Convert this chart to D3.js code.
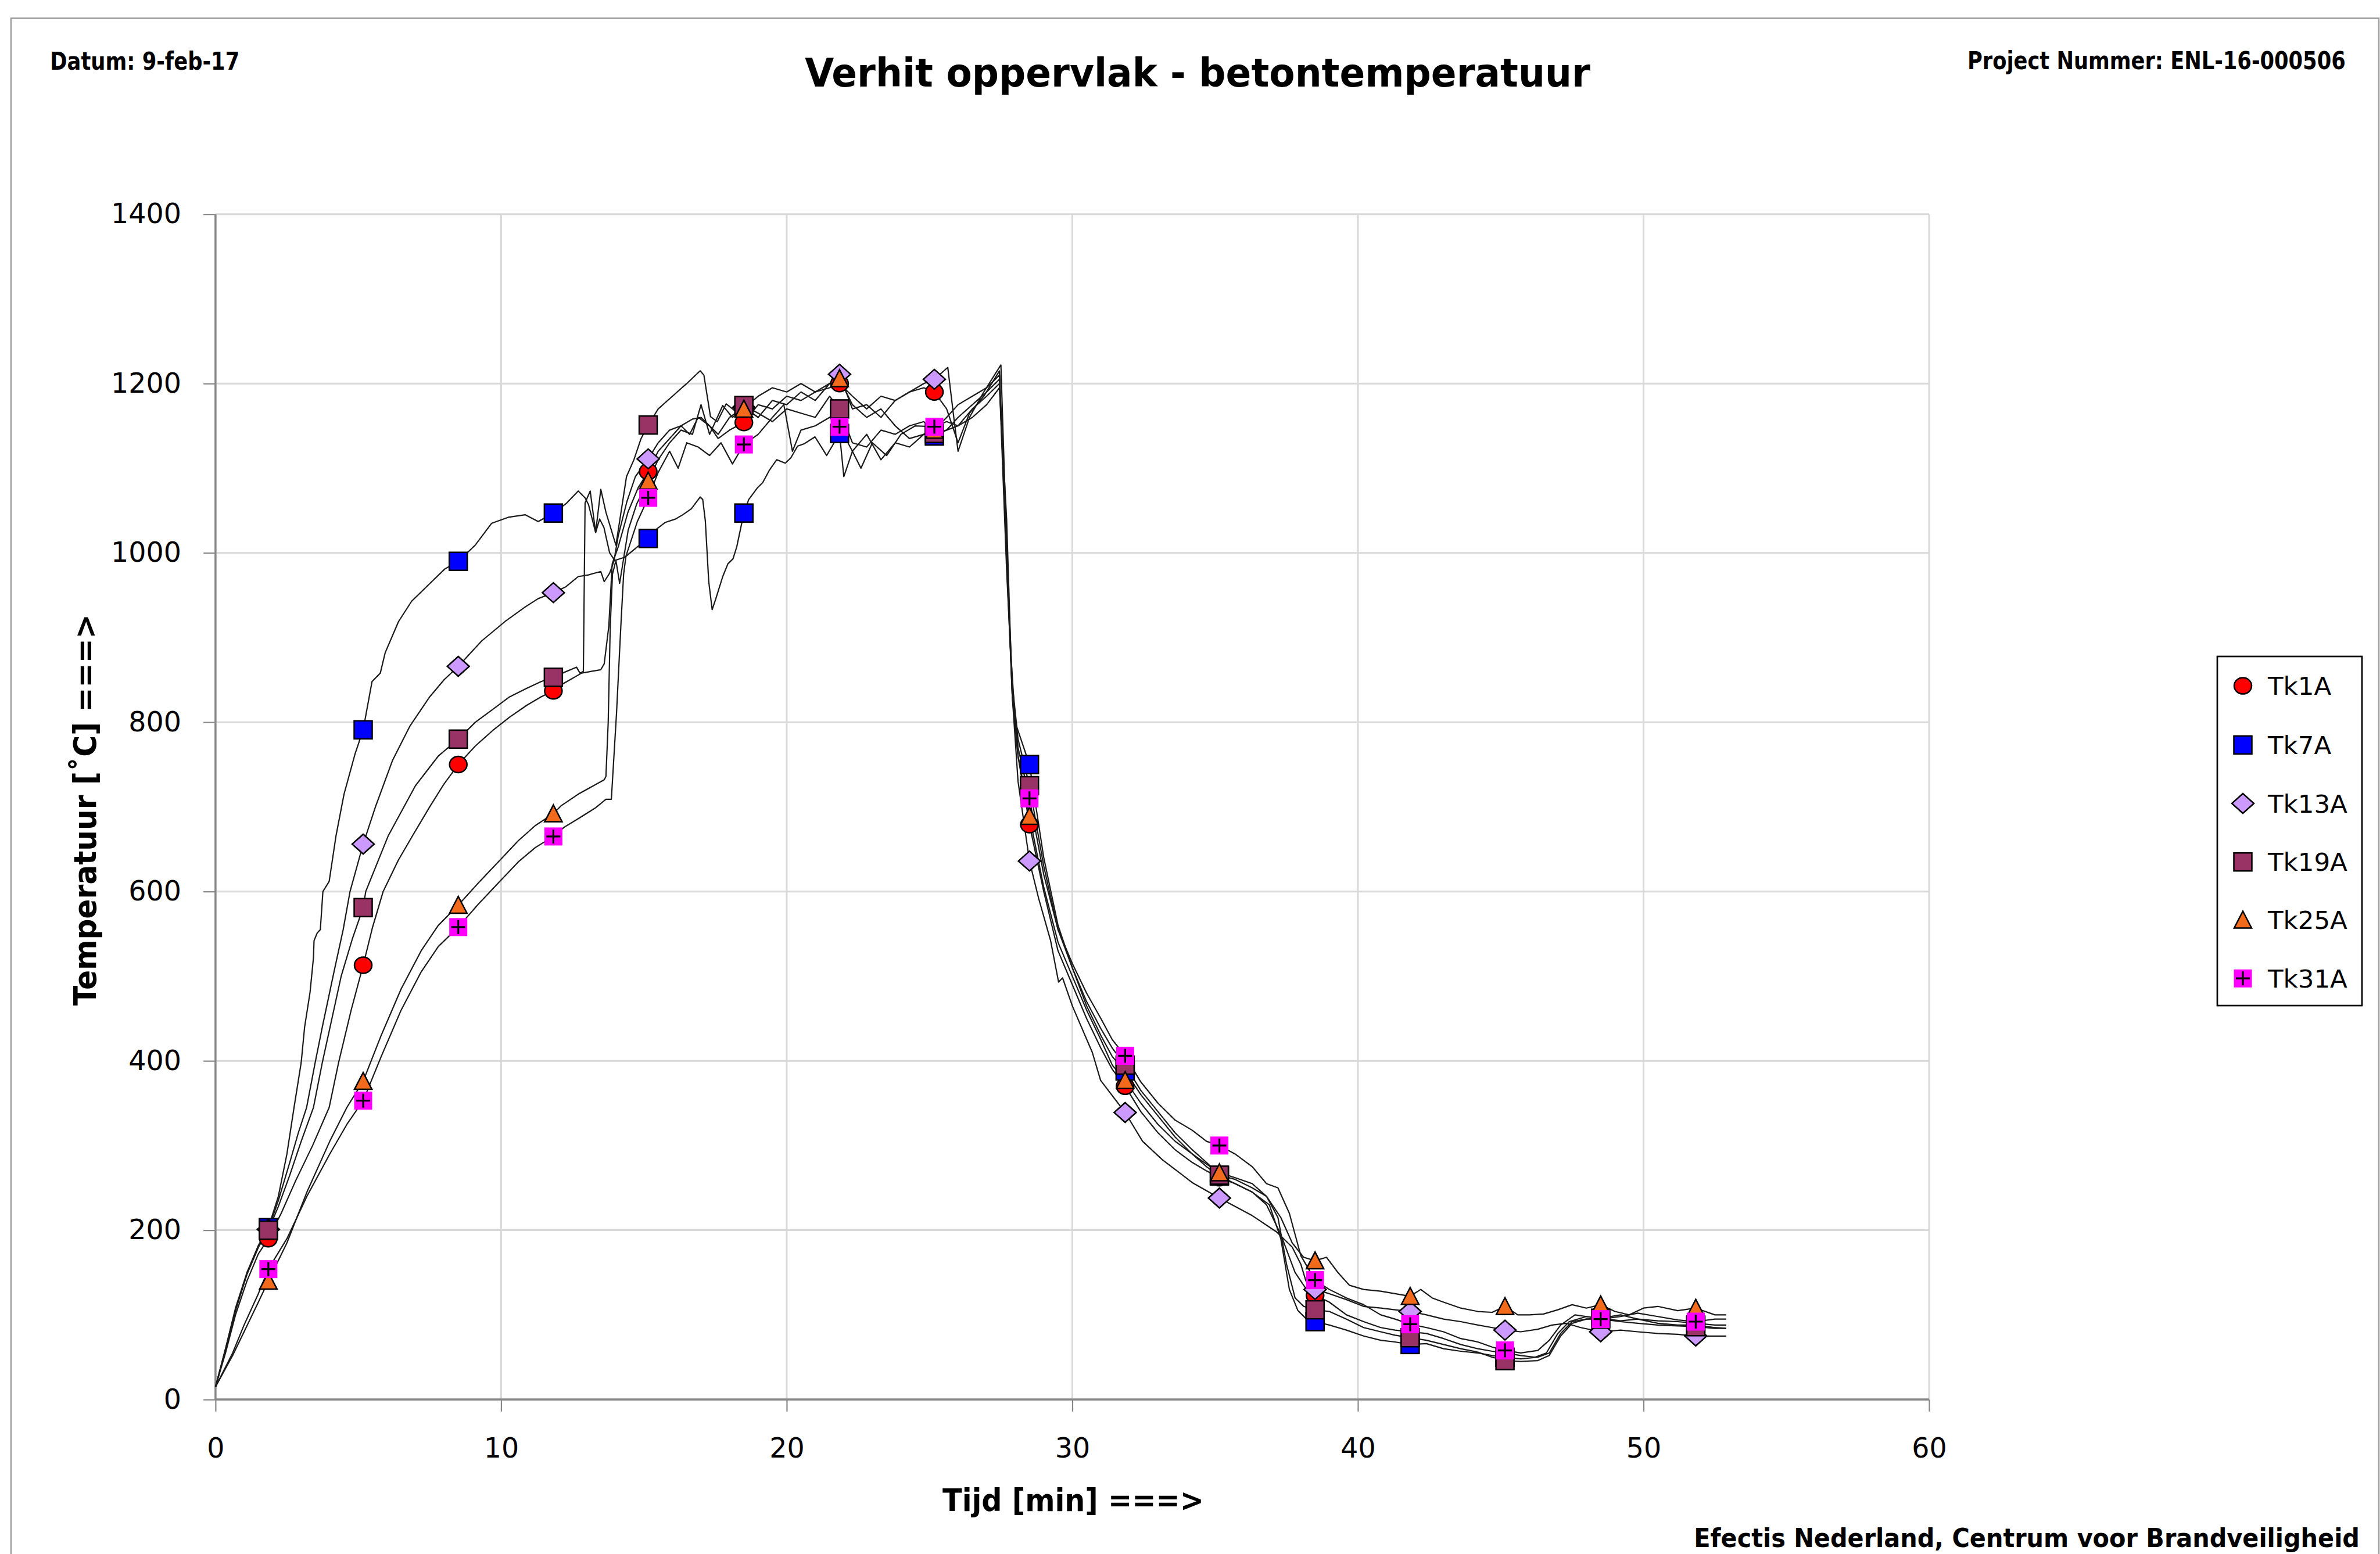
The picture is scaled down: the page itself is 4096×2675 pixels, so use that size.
<!DOCTYPE html>
<html><head><meta charset="utf-8">
<script src="https://cdn.jsdelivr.net/npm/d3@7"></script>
<style>html,body{margin:0;padding:0;background:#fff;}svg{display:block;}</style>
</head><body>
<script>
// ---------- DATA ----------
const seriesNames = ["Tk1A","Tk7A","Tk13A","Tk19A","Tk25A","Tk31A"];
const xTicks = [0,10,20,30,40,50,60];
const yTicks = [0,200,400,600,800,1000,1200,1400];
const markerTimes = [1.85,5.17,8.5,11.83,15.15,18.5,21.85,25.17,28.5,31.85,35.15,38.5,41.83,45.15,48.5,51.83];

const tk1aMarks  = [190,513,750,837,1096,1154,1200,1190,679,370,262,123,80,55,96,90];
const tk7aMarks  = [203,791,990,1047,1017,1047,1141,1138,750,388,264,92,65,50,96,88];
const tk13aMarks = [201,656,866,953,1111,1172,1211,1205,636,339,238,130,104,82,80,75];
const tk19aMarks = [200,581,780,853,1151,1174,1170,1141,725,395,265,106,73,46,95,86];
const tk25aMarks = [140,376,584,692,1085,1170,1206,1145,689,377,268,164,122,110,112,108];
const tk31aMarks = [154,353,558,665,1065,1128,1149,1149,710,406,300,141,89,58,95,92];

const tk1aLine = [[0,15],[0.35,55],[0.7,100],[1.1,140],[1.5,172],[1.85,190],[2.3,220],[2.8,258],[3.4,300],[3.98,345],[4.31,398],[4.75,460],[5.17,513],[5.5,558],[5.87,600],[6.4,637],[6.9,666],[7.5,700],[8.0,727],[8.5,750],[9.1,772],[9.7,790],[10.3,806],[10.9,820],[11.4,830],[11.83,837],[12.15,845],[12.82,858],[13.49,862],[13.61,869],[13.77,913],[13.89,987],[14.1,1007],[14.44,1048],[14.8,1077],[15.15,1096],[15.5,1120],[15.9,1135],[16.3,1150],[16.6,1140],[16.9,1160],[17.3,1150],[17.6,1135],[18.0,1145],[18.5,1154],[19.0,1175],[19.5,1170],[20.0,1185],[20.5,1180],[21.0,1190],[21.5,1195],[21.85,1200],[22.3,1185],[22.8,1170],[23.3,1185],[23.8,1180],[24.3,1190],[24.8,1195],[25.17,1190],[25.6,1170],[26.0,1130],[26.4,1165],[26.9,1185],[27.45,1215],[27.7,1000],[27.9,830],[28.1,760],[28.5,679],[29.0,600],[29.5,530],[30.0,490],[30.5,450],[31.0,415],[31.4,390],[31.85,370],[32.4,340],[33.0,315],[33.6,295],[34.2,280],[34.7,270],[35.15,262],[35.7,255],[36.3,245],[36.8,230],[37.3,195],[37.8,150],[38.2,130],[38.5,123],[39.0,115],[39.6,100],[40.2,92],[40.8,85],[41.3,82],[41.83,80],[42.4,78],[43.0,72],[43.6,65],[44.2,60],[44.7,57],[45.15,55],[45.7,52],[46.2,50],[46.6,55],[47.0,78],[47.4,92],[48.0,98],[48.5,96],[49.2,100],[49.8,95],[50.5,93],[51.2,92],[51.83,90],[52.5,88],[52.9,88]];

const tk7aLine = [[0,15],[0.35,60],[0.7,108],[1.1,150],[1.5,182],[1.85,203],[2.2,240],[2.5,290],[2.75,345],[3.0,398],[3.12,440],[3.31,481],[3.43,522],[3.45,542],[3.56,551],[3.67,555],[3.76,600],[3.98,612],[4.22,666],[4.5,715],[4.89,763],[5.17,791],[5.48,848],[5.77,858],[5.94,882],[6.41,919],[6.87,943],[7.45,962],[8.03,981],[8.5,990],[9.09,1009],[9.67,1035],[10.25,1042],[10.84,1045],[11.3,1037],[11.83,1047],[12.27,1058],[12.7,1073],[12.94,1065],[13.06,1057],[13.31,1024],[13.45,1040],[13.6,1030],[13.8,1000],[13.98,991],[14.34,995],[14.77,1007],[15.15,1017],[15.44,1028],[15.75,1036],[16.11,1040],[16.36,1045],[16.66,1052],[16.97,1066],[17.06,1063],[17.15,1038],[17.27,966],[17.39,933],[17.51,945],[17.76,972],[17.94,987],[18.12,993],[18.25,1007],[18.5,1047],[18.67,1063],[18.98,1077],[19.16,1083],[19.4,1098],[19.65,1110],[19.95,1106],[20.14,1112],[20.38,1126],[20.62,1129],[20.99,1137],[21.4,1115],[21.85,1141],[22.0,1090],[22.3,1120],[22.8,1140],[23.3,1110],[23.8,1130],[24.3,1125],[24.8,1140],[25.17,1138],[25.6,1145],[26.0,1150],[26.5,1160],[27.0,1175],[27.45,1195],[27.7,1040],[27.85,880],[28.0,800],[28.5,750],[29.0,640],[29.5,560],[30.0,510],[30.5,465],[31.0,430],[31.4,405],[31.85,388],[32.4,360],[33.0,335],[33.6,310],[34.2,290],[34.7,275],[35.15,264],[35.7,255],[36.3,245],[36.9,230],[37.3,190],[37.6,130],[37.9,105],[38.2,95],[38.5,92],[39.0,88],[39.6,82],[40.2,75],[40.8,70],[41.3,68],[41.83,65],[42.4,66],[43.0,60],[43.6,57],[44.2,55],[44.7,52],[45.15,50],[45.7,48],[46.3,50],[46.7,55],[47.1,78],[47.5,92],[48.0,95],[48.5,96],[49.2,93],[49.8,95],[50.5,90],[51.2,88],[51.83,88],[52.5,85],[52.9,84]];

const tk13aLine = [[0,15],[0.35,58],[0.7,105],[1.1,148],[1.5,180],[1.85,201],[2.2,235],[2.6,280],[2.9,315],[3.19,345],[3.49,398],[3.74,440],[4.16,507],[4.47,555],[4.71,600],[5.17,656],[5.6,700],[6.2,755],[6.8,795],[7.5,830],[8.0,850],[8.5,866],[9.32,896],[10.14,919],[10.84,936],[11.3,946],[11.83,953],[12.27,960],[12.7,972],[13.06,974],[13.49,978],[13.61,966],[13.8,976],[13.95,990],[14.1,1020],[14.4,1060],[14.7,1090],[15.15,1111],[15.5,1130],[15.9,1145],[16.3,1150],[16.7,1158],[17.0,1160],[17.3,1150],[17.6,1140],[18.0,1160],[18.5,1172],[19.0,1160],[19.5,1180],[20.0,1175],[20.5,1190],[21.0,1180],[21.5,1200],[21.85,1211],[22.3,1170],[22.8,1175],[23.3,1160],[23.8,1180],[24.3,1190],[24.8,1200],[25.17,1205],[25.64,1219],[25.85,1160],[26.0,1120],[26.4,1160],[26.9,1190],[27.5,1222],[27.7,1010],[27.9,830],[28.1,730],[28.5,636],[28.82,592],[29.24,542],[29.52,493],[29.66,498],[30.0,465],[30.7,410],[30.99,377],[31.85,339],[32.46,305],[33.16,283],[34.21,256],[35.15,238],[36.31,217],[37.15,198],[37.7,180],[38.0,160],[38.18,140],[38.5,130],[39.0,125],[39.6,118],[40.2,110],[40.8,108],[41.3,106],[41.83,104],[42.4,100],[43.0,95],[43.6,92],[44.2,88],[44.7,85],[45.15,82],[45.7,80],[46.3,83],[46.8,88],[47.3,90],[47.8,85],[48.5,80],[49.2,82],[49.8,80],[50.5,78],[51.2,77],[51.83,75],[52.5,75],[52.9,75]];

const tk19aLine = [[0,15],[0.35,60],[0.7,106],[1.1,148],[1.5,180],[1.85,200],[2.2,228],[2.6,265],[3.0,305],[3.43,345],[3.74,398],[4.4,500],[4.8,545],[5.17,581],[5.26,600],[6.05,666],[7.0,725],[7.8,760],[8.5,780],[9.1,800],[9.7,815],[10.3,830],[10.9,840],[11.4,848],[11.83,853],[12.15,858],[12.64,865],[12.76,858],[12.88,860],[12.94,1059],[13.12,1073],[13.31,1024],[13.49,1075],[13.67,1048],[13.85,1028],[14.02,1009],[14.39,1090],[14.65,1110],[14.9,1135],[15.15,1151],[15.5,1170],[16.0,1185],[16.5,1200],[16.97,1215],[17.1,1210],[17.33,1161],[17.57,1155],[17.88,1176],[18.18,1168],[18.5,1174],[19.0,1165],[19.5,1155],[20.0,1170],[20.5,1165],[21.0,1160],[21.5,1185],[21.85,1170],[22.3,1130],[22.8,1125],[23.3,1145],[23.8,1140],[24.3,1150],[24.8,1155],[25.17,1141],[25.6,1145],[26.0,1160],[26.5,1175],[27.0,1190],[27.45,1205],[27.7,1000],[27.9,845],[28.1,780],[28.5,725],[29.0,630],[29.5,555],[30.0,510],[30.5,470],[31.0,438],[31.4,415],[31.85,395],[32.4,365],[33.0,340],[33.6,315],[34.2,295],[34.7,280],[35.15,265],[35.7,260],[36.3,250],[36.8,240],[37.2,215],[37.5,160],[37.8,120],[38.1,110],[38.5,106],[39.0,104],[39.6,95],[40.2,85],[40.8,80],[41.3,76],[41.83,73],[42.4,70],[43.0,65],[43.6,60],[44.2,56],[44.7,50],[45.15,46],[45.7,45],[46.3,46],[46.7,52],[47.1,75],[47.5,90],[48.0,95],[48.5,95],[49.2,92],[49.8,90],[50.5,88],[51.2,87],[51.83,86],[52.5,84],[52.9,84]];

const tk25aLine = [[0,15],[0.6,52],[1.0,80],[1.5,115],[1.85,140],[2.5,185],[3.2,245],[4.0,305],[4.6,345],[5.17,376],[5.8,430],[6.5,485],[7.2,530],[7.8,560],[8.5,584],[9.2,610],[9.9,635],[10.6,660],[11.2,678],[11.83,692],[12.09,701],[12.7,715],[13.61,732],[13.67,736],[13.75,800],[13.82,912],[13.9,975],[14.02,991],[14.15,964],[14.45,1027],[14.75,1058],[15.15,1085],[15.5,1110],[15.9,1130],[16.3,1145],[16.7,1140],[17.0,1175],[17.3,1140],[17.76,1174],[18.1,1160],[18.5,1170],[19.0,1185],[19.5,1195],[20.0,1190],[20.5,1200],[21.0,1190],[21.5,1200],[21.85,1206],[22.3,1175],[22.8,1160],[23.3,1170],[23.8,1150],[24.3,1135],[24.8,1140],[25.17,1145],[25.6,1160],[26.0,1175],[26.5,1185],[27.0,1195],[27.45,1210],[27.7,990],[27.9,830],[28.1,760],[28.5,689],[29.0,605],[29.5,540],[30.0,500],[30.5,460],[31.0,425],[31.4,395],[31.85,377],[32.4,350],[33.0,325],[33.6,305],[34.2,290],[34.7,278],[35.15,268],[35.7,262],[36.3,255],[36.8,240],[37.3,215],[37.7,185],[38.1,168],[38.5,164],[38.9,168],[39.3,150],[39.7,135],[40.2,130],[40.8,128],[41.3,125],[41.83,122],[42.2,130],[42.6,120],[43.0,115],[43.6,108],[44.2,104],[44.7,103],[45.15,110],[45.6,100],[46.0,100],[46.5,101],[47.0,106],[47.5,112],[48.0,108],[48.5,112],[49.0,104],[49.5,100],[50.0,108],[50.5,110],[51.2,105],[51.83,108],[52.5,100],[52.9,100]];

const tk31aLine = [[0,15],[0.6,55],[1.0,88],[1.5,125],[1.85,154],[2.5,190],[3.2,240],[4.0,290],[4.6,325],[5.17,353],[5.8,405],[6.5,460],[7.2,505],[7.8,535],[8.5,558],[9.2,585],[9.9,610],[10.6,635],[11.2,652],[11.83,665],[12.21,676],[12.7,686],[13.31,699],[13.67,709],[13.86,709],[14.04,810],[14.19,912],[14.29,975],[14.37,996],[14.77,1037],[15.15,1065],[15.5,1095],[15.9,1120],[16.2,1100],[16.5,1130],[16.9,1125],[17.3,1115],[17.7,1130],[18.1,1105],[18.5,1128],[19.0,1140],[19.5,1160],[19.9,1175],[20.2,1120],[20.5,1145],[21.0,1150],[21.5,1160],[21.85,1149],[22.3,1120],[22.6,1100],[23.0,1130],[23.5,1115],[24.0,1140],[24.5,1150],[25.17,1149],[25.6,1155],[26.0,1150],[26.5,1170],[27.0,1185],[27.45,1200],[27.7,980],[27.9,840],[28.1,770],[28.5,710],[29.0,620],[29.5,555],[30.0,515],[30.5,480],[31.0,450],[31.4,425],[31.85,406],[32.4,375],[33.0,350],[33.6,330],[34.2,318],[34.7,305],[35.15,300],[35.7,290],[36.3,275],[36.8,255],[37.2,250],[37.6,220],[38.0,170],[38.5,141],[39.0,130],[39.6,120],[40.2,112],[40.8,100],[41.3,95],[41.83,89],[42.4,85],[43.0,80],[43.6,72],[44.2,68],[44.7,62],[45.15,58],[45.7,55],[46.3,58],[46.7,70],[47.1,88],[47.6,100],[48.0,98],[48.5,95],[49.2,98],[49.8,102],[50.5,98],[51.2,94],[51.83,92],[52.5,95],[52.9,95]];

const seriesLines = [tk1aLine, tk7aLine, tk13aLine, tk19aLine, tk25aLine, tk31aLine];
const seriesMarks = [tk1aMarks, tk7aMarks, tk13aMarks, tk19aMarks, tk25aMarks, tk31aMarks];
const seriesShapes = ["circle","square","diamond","square","triangle","plus"];
const seriesColors = ["#ff0000","#0000ff","#cc99ff","#993366","#f26b1d","#ff00ff"];

// ---------- LAYOUT ----------
const W = 4096, H = 2675;
const X0 = 370.9, X1 = 3320.0, Y0 = 2409.1, Y1 = 368.7;

const svg = d3.select("body").append("svg").attr("width", W).attr("height", H)
  .style("font-family", "'DejaVu Sans', Verdana, sans-serif");
svg.append("rect").attr("width", W).attr("height", H).attr("fill", "#fff");

// outer frame
svg.append("rect").attr("x", 19).attr("y", 31.5).attr("width", 4094 - 19).attr("height", 2800)
  .attr("fill", "none").attr("stroke", "#a0a0a0").attr("stroke-width", 2.7);

const x = d3.scaleLinear().domain([0, 60]).range([X0, X1]);
const y = d3.scaleLinear().domain([0, 1400]).range([Y0, Y1]);

// gridlines
const grid = svg.append("g");
grid.selectAll(".gy").data(yTicks).join("line")
  .attr("x1", X0).attr("x2", X1).attr("y1", d => y(d)).attr("y2", d => y(d))
  .attr("stroke", "#d9d9d9").attr("stroke-width", 3);
grid.selectAll(".gx").data(xTicks).join("line")
  .attr("y1", Y0).attr("y2", Y1).attr("x1", d => x(d)).attr("x2", d => x(d))
  .attr("stroke", "#d9d9d9").attr("stroke-width", 3);

// axes
const axisColor = "#888888";
const gy = svg.append("g").attr("transform", `translate(${X0},0)`)
  .call(d3.axisLeft(y).tickValues(yTicks).tickSize(20.7).tickPadding(38.2).tickFormat(d3.format("d")));
const gx = svg.append("g").attr("transform", `translate(0,${Y0})`)
  .call(d3.axisBottom(x).tickValues(xTicks).tickSize(20.7).tickPadding(45.5).tickFormat(d3.format("d")));
[gy, gx].forEach(g => {
  g.select(".domain").attr("stroke", axisColor).attr("stroke-width", 3.5);
  g.selectAll(".tick line").attr("stroke", axisColor).attr("stroke-width", 2.2);
  g.selectAll(".tick text").attr("fill", "#000").style("font-size", "47.5px")
    .style("font-family", "'DejaVu Sans', Verdana, sans-serif");
});
gy.select(".domain").attr("d", `M0,${Y0}V${Y1}`);
gx.select(".domain").attr("d", `M${X0},0H${X1}`);

// lines
const line = d3.line().x(d => x(d[0])).y(d => y(d[1]));
svg.append("g").selectAll("path").data(seriesLines).join("path")
  .attr("d", line).attr("fill", "none").attr("stroke", "#1a1a1a")
  .attr("stroke-width", 2.2).attr("stroke-linejoin", "round");

// marker drawing
function drawMarker(g, shape, color) {
  const sw = 2.5;
  if (shape === "circle") {
    g.append("ellipse").attr("rx", 15).attr("ry", 14).attr("fill", color).attr("stroke", "#000").attr("stroke-width", sw);
  } else if (shape === "square") {
    g.append("rect").attr("x", -15.5).attr("y", -15.5).attr("width", 31).attr("height", 31)
      .attr("fill", color).attr("stroke", "#000").attr("stroke-width", sw);
  } else if (shape === "diamond") {
    g.append("path").attr("d", "M0,-17L19,0L0,17L-19,0Z").attr("fill", color).attr("stroke", "#000").attr("stroke-width", sw);
  } else if (shape === "triangle") {
    g.append("path").attr("d", "M0,-15L15,14L-15,14Z").attr("fill", color).attr("stroke", "#000").attr("stroke-width", sw);
  } else if (shape === "plus") {
    g.append("rect").attr("x", -15.5).attr("y", -15.5).attr("width", 31).attr("height", 31).attr("fill", color);
    g.append("path").attr("d", "M-12,0H12M0,-12V12").attr("stroke", "#000").attr("stroke-width", 3.2);
  }
}

const mk = svg.append("g");
seriesMarks.forEach((vals, i) => {
  vals.forEach((v, j) => {
    const g = mk.append("g").attr("transform", `translate(${x(markerTimes[j])},${y(v)})`);
    drawMarker(g, seriesShapes[i], seriesColors[i]);
  });
});

// legend
const lg = svg.append("g");
lg.append("rect").attr("x", 3816).attr("y", 1130).attr("width", 249).attr("height", 601)
  .attr("fill", "#fff").attr("stroke", "#000").attr("stroke-width", 2.7);
const legendRows = [1180.6, 1282.3, 1383, 1483.7, 1583.5, 1684.2];
seriesNames.forEach((n, i) => {
  const g = lg.append("g").attr("transform", `translate(3860,${legendRows[i]})`);
  drawMarker(g, seriesShapes[i], seriesColors[i]);
  lg.append("text").attr("x", 3903).attr("y", legendRows[i]).attr("dy", "0.36em")
    .style("font-size", "43.5px").attr("fill", "#000").text(n);
});

// texts, fitted to width with a horizontal scale transform
const cond = "'DejaVu Sans Condensed', 'DejaVu Sans', Tahoma, sans-serif";
function txt(str, xx, yy, size, anchor, target, rot) {
  const t = svg.append("text").attr("x", 0).attr("y", 0).attr("text-anchor", anchor)
    .style("font-family", cond).style("font-weight", "bold").style("font-size", size + "px")
    .attr("fill", "#000").text(str);
  const w = t.node().getComputedTextLength();
  const k = w > 0 ? target / w : 1;
  t.attr("transform", `translate(${xx},${yy})${rot ? " rotate(" + rot + ")" : ""} scale(${k},1)`);
  return t;
}
txt("Verhit oppervlak - betontemperatuur", 2061, 149, 68, "middle", 1352);
txt("Datum: 9-feb-17", 86.3, 120, 43, "start", 326);
txt("Project Nummer: ENL-16-000506", 4036.7, 119, 43, "end", 651);
txt("Tijd [min] ===>", 1847, 2601, 54, "middle", 450);
txt("Efectis Nederland, Centrum voor Brandveiligheid", 4061, 2663, 44, "end", 1146);
txt("Temperatuur [˚C] ===>", 164.5, 1394, 54, "middle", 674, -90);
</script>
</body></html>
